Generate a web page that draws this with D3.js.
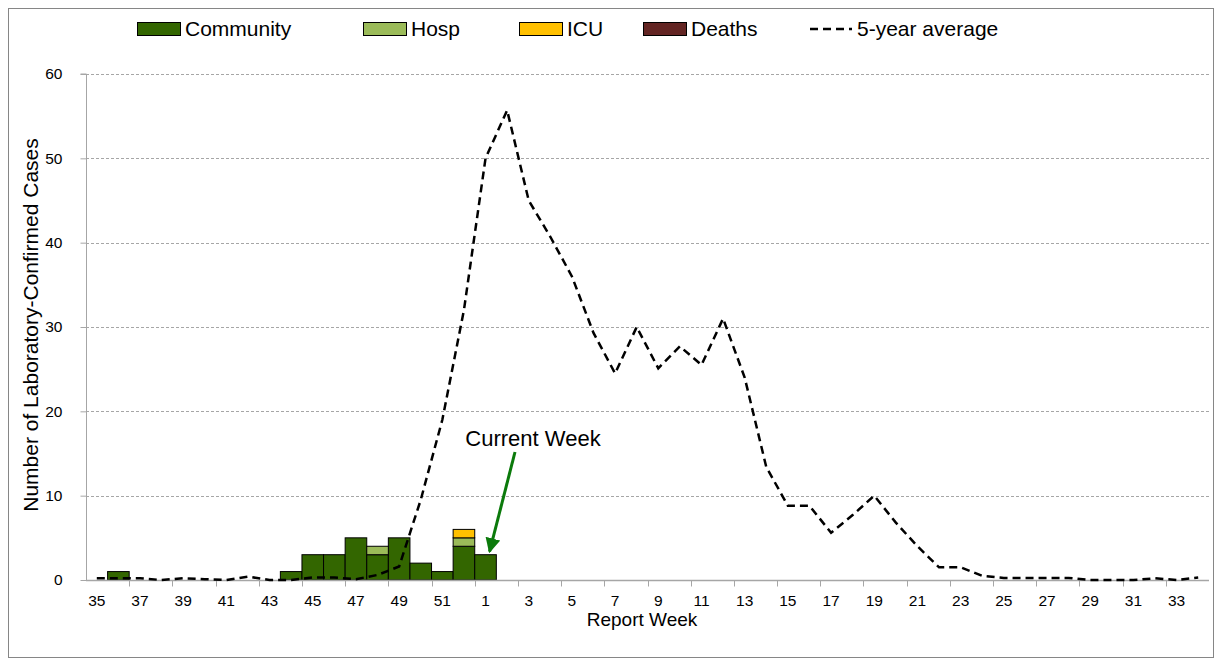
<!DOCTYPE html>
<html><head><meta charset="utf-8">
<script src="https://cdn.jsdelivr.net/npm/d3@7/dist/d3.min.js"></script>
<style>body{margin:0;background:#fff}svg{display:block}</style>
</head><body>
<svg id="chart" width="1223" height="666"></svg>
<script>
// ---- data ----
const weeks = [35,36,37,38,39,40,41,42,43,44,45,46,47,48,49,50,51,52,
  1,2,3,4,5,6,7,8,9,10,11,12,13,14,15,16,17,18,19,20,21,22,23,24,25,26,27,28,29,30,31,32,33,34];
const community = [0,1,0,0,0,0,0,0,0,1,3,3,5,3,5,2,1,4,
  3,0,0,0,0,0,0,0,0,0,0,0,0,0,0,0,0,0,0,0,0,0,0,0,0,0,0,0,0,0,0,0,0,0];
const hosp = [0,0,0,0,0,0,0,0,0,0,0,0,0,1,0,0,0,1,
  0,0,0,0,0,0,0,0,0,0,0,0,0,0,0,0,0,0,0,0,0,0,0,0,0,0,0,0,0,0,0,0,0,0];
const icu = [0,0,0,0,0,0,0,0,0,0,0,0,0,0,0,0,0,1,
  0,0,0,0,0,0,0,0,0,0,0,0,0,0,0,0,0,0,0,0,0,0,0,0,0,0,0,0,0,0,0,0,0,0];
const deaths = [0,0,0,0,0,0,0,0,0,0,0,0,0,0,0,0,0,0,
  0,0,0,0,0,0,0,0,0,0,0,0,0,0,0,0,0,0,0,0,0,0,0,0,0,0,0,0,0,0,0,0,0,0];
const fiveYearAvg = [0.2,0.2,0.2,0,0.2,0.1,0,0.4,0,0,0.3,0.3,0.1,0.6,1.6,9.5,19,32,
  50,55.7,45,40.7,36,29.3,24.5,30,25.1,27.7,25.5,31,24,13.4,8.8,8.8,5.6,7.7,10,6.8,4,1.5,1.5,0.5,
  0.25,0.25,0.25,0.25,0,0,0,0.2,0,0.3];
const yTicks = [0,10,20,30,40,50,60];
const xTickLabels = weeks.filter((w,i)=>i%2===0);
const seriesNames = ["Community","Hosp","ICU","Deaths"];
const seriesColors = ["#336600","#9BBB59","#FFC000","#632523"];
const currentWeek = 1;

// ---- layout ----
const svg = d3.select("#chart");
const L = 86, R = 1209, T = 74, B = 580;
const x = d3.scaleBand().domain(weeks).range([L,R]).padding(0);
const y = d3.scaleLinear().domain([0,60]).range([B,T]);
const sans = "'Liberation Sans',Arial,sans-serif";
const narrow = "'Liberation Sans Narrow','Liberation Sans',sans-serif";

// frame
svg.append("rect").attr("x",8.5).attr("y",8.5).attr("width",1205).attr("height",649)
  .attr("fill","#fff").attr("stroke","#868686").attr("stroke-width",1);

// gridlines
svg.append("g").selectAll("line").data(yTicks.filter(d=>d>0)).join("line")
  .attr("x1",L).attr("x2",R).attr("y1",d=>Math.round(y(d))+0.5).attr("y2",d=>Math.round(y(d))+0.5)
  .attr("stroke","#a6a6a6").attr("stroke-width",1).attr("stroke-dasharray","3,2");

// y axis
const yAxis = svg.append("g").attr("transform",`translate(${L+0.5},0)`)
  .call(d3.axisLeft(y).tickValues(yTicks).tickSize(6).tickPadding(18));
yAxis.select(".domain").attr("stroke","#a6a6a6").attr("d",`M-6,${y(60)}H0V${y(0)}`);
yAxis.selectAll(".tick line").attr("stroke","#a6a6a6");
yAxis.selectAll(".tick text").attr("font-family",sans).attr("font-size",15.5).attr("fill","#000");

// stacked bars
const rows = weeks.map((w,i)=>({week:w,Community:community[i],Hosp:hosp[i],ICU:icu[i],Deaths:deaths[i]}));
const stack = d3.stack().keys(seriesNames)(rows);
svg.append("g").selectAll("g").data(stack).join("g")
  .attr("fill",(d,i)=>seriesColors[i])
  .selectAll("rect").data(d=>d.filter(s=>s[1]-s[0]>0)).join("rect")
  .attr("x",d=>x(d.data.week)).attr("width",x.bandwidth())
  .attr("y",d=>y(d[1])).attr("height",d=>y(d[0])-y(d[1]))
  .attr("stroke","#000").attr("stroke-width",1);

// x axis
const xAxis = svg.append("g").attr("transform",`translate(0,${B+0.5})`);
xAxis.append("line").attr("x1",L).attr("x2",R).attr("stroke","#a6a6a6").attr("stroke-width",1.5);
xAxis.selectAll("line.tk").data(weeks.filter((w,i)=>i%2===0 && i>0)).join("line").attr("class","tk")
  .attr("x1",d=>Math.round(x(d))+0.5).attr("x2",d=>Math.round(x(d))+0.5).attr("y1",0).attr("y2",6)
  .attr("stroke","#a6a6a6");
xAxis.selectAll("text").data(xTickLabels).join("text")
  .attr("x",d=>x(d)+x.bandwidth()/2).attr("y",25).attr("text-anchor","middle")
  .attr("font-family",sans).attr("font-size",15.5)
  .text(d=>d);

// 5-year average line
const line = d3.line().x((d,i)=>x(weeks[i])+x.bandwidth()/2).y(d=>y(d));
svg.append("path").datum(fiveYearAvg).attr("d",line).attr("fill","none")
  .attr("stroke","#000").attr("stroke-width",2.5).attr("stroke-dasharray","8,5");

// axis titles
svg.append("text").attr("x",642).attr("y",626).attr("text-anchor","middle")
  .attr("font-family",sans).attr("font-size",19).text("Report Week");
svg.append("text").attr("transform","translate(38,325) rotate(-90)").attr("text-anchor","middle")
  .attr("font-family",narrow).attr("font-size",21)
  .text("Number of Laboratory-Confirmed Cases");

// current week annotation
const cwIdx = weeks.indexOf(currentWeek);
const cwTop = community[cwIdx]+hosp[cwIdx]+icu[cwIdx]+deaths[cwIdx];
const tipX = x(currentWeek)+x.bandwidth()/2+4, tipY = y(cwTop)-3;
const defs = svg.append("defs");
defs.append("marker").attr("id","ah").attr("viewBox","0 0 10 10").attr("refX",9).attr("refY",5)
  .attr("markerWidth",5).attr("markerHeight",5).attr("orient","auto").attr("markerUnits","strokeWidth")
  .append("path").attr("d","M0,0L10,5L0,10z").attr("fill","#0b7a0b");
svg.append("line").attr("x1",515).attr("y1",452).attr("x2",tipX).attr("y2",tipY)
  .attr("stroke","#0b7a0b").attr("stroke-width",3).attr("marker-end","url(#ah)");
svg.append("text").attr("x",533).attr("y",446).attr("text-anchor","middle")
  .attr("font-family",narrow).attr("font-size",22)
  .text("Current Week");

// legend
const legX = [137,363,519,643];
const lg = svg.append("g");
seriesNames.forEach((n,i)=>{
  lg.append("rect").attr("x",legX[i]+0.5).attr("y",22.5).attr("width",43).attr("height",13)
    .attr("fill",seriesColors[i]).attr("stroke","#000").attr("stroke-width",1);
  lg.append("text").attr("x",legX[i]+48).attr("y",36).attr("font-family",sans)
    .attr("font-size",21).text(n);
});
lg.append("line").attr("x1",810).attr("x2",852).attr("y1",29).attr("y2",29).attr("stroke","#000")
  .attr("stroke-width",2.5).attr("stroke-dasharray","8,5");
lg.append("text").attr("x",857).attr("y",36).attr("font-family",sans)
  .attr("font-size",21).text("5-year average");
</script>
</body></html>
